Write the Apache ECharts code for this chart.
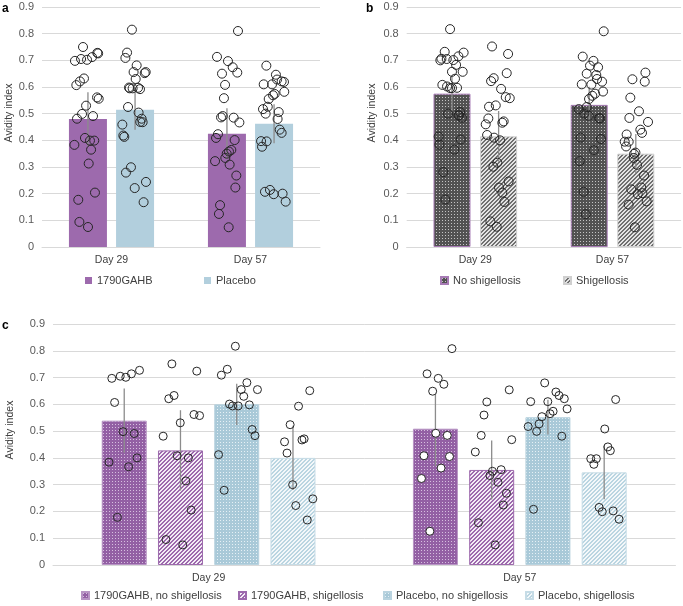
<!DOCTYPE html>
<html>
<head>
<meta charset="utf-8">
<script src="https://cdn.jsdelivr.net/npm/echarts@6/dist/echarts.min.js"></script>
<style>
  html, body { margin: 0; padding: 0; background: #fff; }
  #chart { width: 683px; height: 606px; }
</style>
</head>
<body>
<div id="chart"></div>
<script>
// categories
const days = ['Day 29', 'Day 57'];

// panel a - bar means and error half widths
const aGahbMean = [0.48, 0.425];
const aGahbErr = [0.1, 0.095];
const aPlacMean = [0.515, 0.462];
const aPlacErr = [0.075, 0.073];

// panel b
const bNoShigMean = [0.575, 0.533];
const bNoShigErr = [0.064, 0.068];
const bShigMean = [0.415, 0.35];
const bShigErr = [0.095, 0.074];

// panel c
const cGahbNoMean = [0.539, 0.509];
const cGahbNoErr = [0.12, 0.14];
const cGahbShMean = [0.428, 0.355];
const cGahbShErr = [0.15, 0.11];
const cPlacNoMean = [0.600, 0.552];
const cPlacNoErr = [0.077, 0.065];
const cPlacShMean = [0.400, 0.346];
const cPlacShErr = [0.12, 0.10];

// individual subjects: [position along the two categories (0..2), avidity index]
const aGahbPts = [[0.295,0.75],[0.237,0.698],[0.281,0.705],[0.324,0.702],[0.360,0.712],[0.398,0.728],[0.404,0.726],[0.302,0.632],[0.273,0.621],[0.247,0.607],[0.396,0.561],[0.408,0.556],[0.317,0.53],[0.288,0.499],[0.367,0.491],[0.252,0.481],[0.233,0.383],[0.309,0.409],[0.345,0.399],[0.376,0.399],[0.353,0.365],[0.336,0.313],[0.381,0.204],[0.261,0.177],[0.269,0.094],[0.331,0.075],
  [1.410,0.81],[1.259,0.713],[1.338,0.697],[1.295,0.65],[1.372,0.674],[1.405,0.654],[1.317,0.608],[1.309,0.558],[1.300,0.491],[1.288,0.486],[1.379,0.485],[1.420,0.467],[1.266,0.423],[1.252,0.409],[1.386,0.401],[1.362,0.364],[1.345,0.358],[1.329,0.350],[1.319,0.334],[1.245,0.322],[1.350,0.309],[1.398,0.268],[1.391,0.223],[1.281,0.157],[1.273,0.124],[1.343,0.074]];
const aPlacPts = [[0.647,0.815],[0.612,0.729],[0.600,0.709],[0.681,0.681],[0.659,0.656],[0.746,0.656],[0.739,0.652],[0.674,0.63],[0.626,0.598],[0.631,0.595],[0.652,0.595],[0.691,0.597],[0.705,0.592],[0.619,0.525],[0.695,0.504],[0.717,0.481],[0.707,0.469],[0.724,0.468],[0.578,0.459],[0.585,0.418],[0.592,0.413],[0.640,0.299],[0.604,0.279],[0.748,0.244],[0.667,0.221],[0.731,0.168],
  [1.614,0.68],[1.683,0.646],[1.595,0.61],[1.655,0.61],[1.691,0.628],[1.724,0.621],[1.741,0.619],[1.743,0.582],[1.674,0.574],[1.662,0.569],[1.631,0.555],[1.624,0.526],[1.590,0.517],[1.609,0.5],[1.703,0.506],[1.695,0.48],[1.710,0.44],[1.724,0.428],[1.616,0.396],[1.576,0.397],[1.583,0.376],[1.640,0.214],[1.604,0.207],[1.667,0.198],[1.731,0.2],[1.753,0.17]];

const bNoShigPts = [[0.316,0.817],[0.277,0.732],[0.245,0.7],[0.253,0.706],[0.292,0.705],[0.340,0.701],[0.377,0.715],[0.415,0.729],[0.360,0.683],[0.330,0.657],[0.408,0.657],[0.352,0.631],[0.260,0.608],[0.294,0.602],[0.316,0.596],[0.330,0.596],[0.367,0.597],[0.301,0.5],[0.377,0.493],[0.381,0.494],[0.403,0.485],[0.389,0.506],[0.233,0.414],[0.238,0.384],[0.394,0.403],[0.347,0.365],[0.267,0.281],[0.282,0.178],
  [1.436,0.809],[1.283,0.714],[1.361,0.698],[1.336,0.68],[1.395,0.674],[1.312,0.65],[1.382,0.645],[1.387,0.63],[1.424,0.62],[1.276,0.61],[1.346,0.609],[1.431,0.583],[1.373,0.575],[1.353,0.567],[1.329,0.555],[1.312,0.525],[1.254,0.517],[1.295,0.5],[1.327,0.492],[1.402,0.483],[1.409,0.482],[1.268,0.41],[1.416,0.405],[1.365,0.363],[1.261,0.322],[1.290,0.207],[1.305,0.123]];
const bShigPts = [[0.622,0.752],[0.739,0.724],[0.634,0.633],[0.615,0.622],[0.729,0.652],[0.688,0.593],[0.722,0.562],[0.751,0.558],[0.600,0.526],[0.649,0.531],[0.595,0.482],[0.576,0.46],[0.707,0.471],[0.697,0.466],[0.586,0.42],[0.637,0.41],[0.680,0.4],[0.661,0.316],[0.632,0.301],[0.673,0.223],[0.697,0.204],[0.743,0.246],[0.712,0.169],[0.610,0.096],[0.656,0.076],
  [1.740,0.654],[1.735,0.62],[1.645,0.629],[1.630,0.56],[1.693,0.509],[1.623,0.484],[1.759,0.469],[1.703,0.44],[1.715,0.428],[1.603,0.422],[1.618,0.395],[1.599,0.377],[1.589,0.395],[1.657,0.349],[1.667,0.354],[1.655,0.334],[1.679,0.308],[1.730,0.268],[1.710,0.223],[1.637,0.216],[1.684,0.198],[1.718,0.202],[1.749,0.171],[1.618,0.159],[1.663,0.074]];

const cGahbNoPts = [[0.189,0.697],[0.216,0.705],[0.234,0.701],[0.252,0.714],[0.278,0.727],[0.198,0.607],[0.225,0.498],[0.261,0.491],[0.180,0.384],[0.270,0.400],[0.243,0.367],[0.207,0.178],
  [1.282,0.808],[1.202,0.714],[1.238,0.697],[1.256,0.675],[1.220,0.649],[1.230,0.492],[1.267,0.484],[1.192,0.408],[1.274,0.405],[1.247,0.362],[1.184,0.323],[1.211,0.126]];
const cGahbShPts = [[0.382,0.751],[0.462,0.724],[0.389,0.633],[0.372,0.621],[0.453,0.562],[0.471,0.558],[0.409,0.531],[0.354,0.481],[0.399,0.408],[0.435,0.400],[0.427,0.314],[0.444,0.205],[0.363,0.095],[0.417,0.075],
  [1.466,0.654],[1.394,0.609],[1.385,0.560],[1.376,0.484],[1.474,0.468],[1.357,0.422],[1.412,0.350],[1.440,0.356],[1.404,0.334],[1.430,0.309],[1.457,0.268],[1.447,0.224],[1.367,0.158],[1.421,0.075]];
const cPlacNoPts = [[0.586,0.817],[0.541,0.709],[0.560,0.731],[0.623,0.681],[0.605,0.655],[0.657,0.655],[0.613,0.630],[0.567,0.601],[0.577,0.594],[0.595,0.594],[0.631,0.598],[0.640,0.506],[0.649,0.483],[0.532,0.412],[0.550,0.279],
  [1.580,0.680],[1.535,0.610],[1.590,0.610],[1.616,0.646],[1.626,0.633],[1.643,0.621],[1.652,0.583],[1.607,0.574],[1.597,0.565],[1.571,0.554],[1.562,0.527],[1.527,0.517],[1.554,0.499],[1.635,0.481],[1.544,0.208]];
const cPlacShPts = [[0.825,0.651],[0.789,0.593],[0.762,0.524],[0.744,0.46],[0.800,0.467],[0.807,0.471],[0.752,0.418],[0.770,0.30],[0.835,0.247],[0.780,0.222],[0.817,0.168],
  [1.808,0.618],[1.773,0.508],[1.783,0.441],[1.791,0.427],[1.728,0.397],[1.746,0.397],[1.738,0.376],[1.755,0.215],[1.765,0.199],[1.800,0.202],[1.819,0.171]];

const FONT = "'Liberation Sans', Arial, sans-serif";
const GRID_COLOR = '#d9d9d9';

// small repeating fills that mimic the Excel patterns
function dotFill (base, dot) {
  const cv = document.createElement('canvas');
  cv.width = 3; cv.height = 3;
  const ctx = cv.getContext('2d');
  ctx.fillStyle = base; ctx.fillRect(0, 0, 3, 3);
  ctx.fillStyle = dot; ctx.fillRect(1, 1, 1, 1);
  return { image: cv, repeat: 'repeat' };
}
function hatchFill (stripe, bg) {
  const cv = document.createElement('canvas');
  cv.width = 4; cv.height = 4;
  const ctx = cv.getContext('2d');
  for (let x = 0; x < 4; x++) {
    for (let y = 0; y < 4; y++) {
      ctx.fillStyle = ((x + y) % 4) < 2 ? stripe : bg;
      ctx.fillRect(x, y, 1, 1);
    }
  }
  return { image: cv, repeat: 'repeat' };
}

const grids = [
  { left: 42, top: 7, width: 278, height: 240 },
  { left: 406.7, top: 7, width: 274.4, height: 240 },
  { left: 53, top: 324, width: 622.4, height: 241 }
];

function catAxis (gi) {
  return {
    type: 'category', gridIndex: gi, data: days,
    axisLine: { lineStyle: { color: GRID_COLOR } },
    axisTick: { show: false },
    axisLabel: { color: '#404040', fontSize: 10.5, fontFamily: FONT, margin: 8 }
  };
}
function posAxis (gi) {
  return { type: 'value', gridIndex: gi, min: 0, max: 2, show: false };
}
function valAxis (gi) {
  return {
    type: 'value', gridIndex: gi, min: 0, max: 0.9, interval: 0.1,
    axisLine: { show: false }, axisTick: { show: false },
    splitLine: { lineStyle: { color: GRID_COLOR } },
    axisLabel: {
      color: '#595959', fontSize: 11, fontFamily: FONT, margin: 8,
      formatter: v => v === 0 ? '0' : v.toFixed(1)
    }
  };
}

function barSeries (name, gi, data, color, barW, gap, border) {
  return {
    type: 'bar', name: name, xAxisIndex: gi, yAxisIndex: gi, data: data,
    barWidth: barW, barGap: gap, z: 2,
    itemStyle: { color: color, borderColor: border || 'transparent', borderWidth: border ? 1 : 0 },
    emphasis: { disabled: true }
  };
}

function errSeries (gi, means, errs, shift) {
  return {
    type: 'custom', name: 'err', xAxisIndex: gi, yAxisIndex: gi, z: 3, silent: true,
    data: means.map((m, i) => [i, m - errs[i], m + errs[i]]),
    renderItem: function (params, api) {
      const lo = api.coord([api.value(0), api.value(1)]);
      const hi = api.coord([api.value(0), api.value(2)]);
      const x = lo[0] + shift;
      return {
        type: 'line',
        shape: { x1: x, y1: lo[1], x2: x, y2: hi[1] },
        style: { stroke: '#8c8c8c', lineWidth: 1.3 }
      };
    }
  };
}

function ptSeries (gi, data, size, fill) {
  return {
    type: 'scatter', name: 'pts', xAxisIndex: gi + 3, yAxisIndex: gi, data: data,
    symbol: 'circle', symbolSize: size, z: 4, silent: true,
    itemStyle: { color: fill || 'rgba(0,0,0,0)', borderColor: '#262626', borderWidth: 1, opacity: 1 }
  };
}

function shifts (n, w, gapPct) {
  const step = w * (1 + gapPct);
  const out = [];
  for (let i = 0; i < n; i++) out.push((i - (n - 1) / 2) * step);
  return out;
}

function oneLegend (name, left, top) {
  return {
    data: [name], left: left, top: top, padding: 0,
    icon: 'rect', itemWidth: 7, itemHeight: 7, itemGap: 5,
    textStyle: { color: '#404040', fontSize: 11, fontFamily: FONT },
    selectedMode: false
  };
}

const purple = '#9d6aad';
const blue = '#b2cfdd';
const sA = shifts(2, 38, 0.24);
const sB = shifts(2, 37, 0.26);
const sC = shifts(4, 45, 0.25);

let option = {
  animation: false,
  backgroundColor: '#fff',
  textStyle: { fontFamily: FONT },
  grid: grids,
  xAxis: [catAxis(0), catAxis(1), catAxis(2), posAxis(0), posAxis(1), posAxis(2)],
  yAxis: [valAxis(0), valAxis(1), valAxis(2)],
  legend: [
    oneLegend('1790GAHB', 85, 275),
    oneLegend('Placebo', 204, 275),
    oneLegend('No shigellosis', 440, 275),
    oneLegend('Shigellosis', 563, 275),
    oneLegend('1790GAHB, no shigellosis', 81, 590),
    oneLegend('1790GAHB, shigellosis', 238, 590),
    oneLegend('Placebo, no shigellosis', 383, 590),
    oneLegend('Placebo, shigellosis', 525, 590)
  ],
  graphic: [
    { type: 'text', left: 2, top: 3, style: { text: 'a', font: 'bold 12px ' + FONT, fill: '#000' } },
    { type: 'text', left: 366, top: 3, style: { text: 'b', font: 'bold 12px ' + FONT, fill: '#000' } },
    { type: 'text', left: 2, top: 320, style: { text: 'c', font: 'bold 12px ' + FONT, fill: '#000' } },
    { type: 'text', x: 9, y: 113, rotation: Math.PI / 2, style: { text: 'Avidity index', font: '10.5px ' + FONT, fill: '#404040', textAlign: 'center', textVerticalAlign: 'middle' } },
    { type: 'text', x: 372, y: 113, rotation: Math.PI / 2, style: { text: 'Avidity index', font: '10.5px ' + FONT, fill: '#404040', textAlign: 'center', textVerticalAlign: 'middle' } },
    { type: 'text', x: 10, y: 430, rotation: Math.PI / 2, style: { text: 'Avidity index', font: '10.5px ' + FONT, fill: '#404040', textAlign: 'center', textVerticalAlign: 'middle' } }
  ],
  series: [
    // a
    barSeries('1790GAHB', 0, aGahbMean, purple, 38, '24%'),
    barSeries('Placebo', 0, aPlacMean, blue, 38, '24%'),
    errSeries(0, aGahbMean, aGahbErr, sA[0]),
    errSeries(0, aPlacMean, aPlacErr, sA[1]),
    ptSeries(0, aGahbPts, 9),
    ptSeries(0, aPlacPts, 9),
    // b
    barSeries('No shigellosis', 1, bNoShigMean, dotFill('#525252', '#c4c4c4'), 37, '26%', '#a77bb5'),
    barSeries('Shigellosis', 1, bShigMean, hatchFill('#707070', '#e4e4e4'), 37, '26%', '#cfcfcf'),
    errSeries(1, bNoShigMean, bNoShigErr, sB[0]),
    errSeries(1, bShigMean, bShigErr, sB[1]),
    ptSeries(1, bNoShigPts, 9),
    ptSeries(1, bShigPts, 9),
    // c
    barSeries('1790GAHB, no shigellosis', 2, cGahbNoMean, dotFill('#9360a4', '#d6bfdf'), 45, '25%', '#b794c4'),
    barSeries('1790GAHB, shigellosis', 2, cGahbShMean, hatchFill('#9d6aad', '#f4edf6'), 45, '25%', '#9d6aad'),
    barSeries('Placebo, no shigellosis', 2, cPlacNoMean, dotFill('#a9c9d8', '#e6f0f5'), 45, '25%', '#b9d3df'),
    barSeries('Placebo, shigellosis', 2, cPlacShMean, hatchFill('#bad5e1', '#f4f8fa'), 45, '25%', '#c6dce6'),
    errSeries(2, cGahbNoMean, cGahbNoErr, sC[0]),
    errSeries(2, cGahbShMean, cGahbShErr, sC[1]),
    errSeries(2, cPlacNoMean, cPlacNoErr, sC[2]),
    errSeries(2, cPlacShMean, cPlacShErr, sC[3]),
    ptSeries(2, cGahbNoPts.slice(0, 12), 8),
    ptSeries(2, cGahbNoPts.slice(12), 8, '#ffffff'),
    ptSeries(2, cGahbShPts, 8),
    ptSeries(2, cPlacNoPts, 8),
    ptSeries(2, cPlacShPts, 8)
  ]
};

let chart = echarts.init(document.getElementById('chart'), null, { renderer: 'canvas' });
chart.setOption(option);
</script>
</body>
</html>
